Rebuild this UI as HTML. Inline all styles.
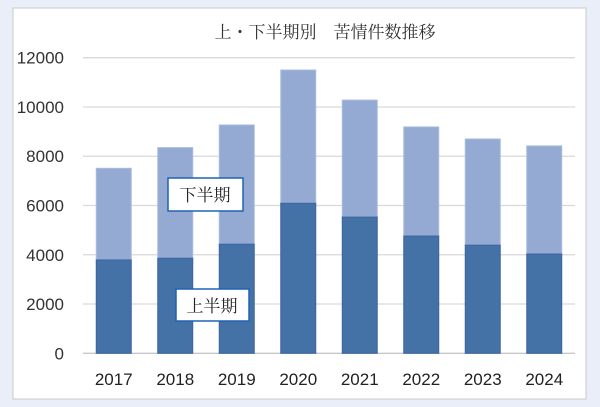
<!DOCTYPE html>
<html><head><meta charset="utf-8"><style>
html,body{margin:0;padding:0;background:#e9eef8;width:600px;height:407px;overflow:hidden}
svg{display:block}
text{font-family:"Liberation Sans","Noto Sans CJK JP",sans-serif}
text.cjk{font-family:"Liberation Serif","Noto Serif CJK SC",serif}
</style></head><body>
<svg width="600" height="407">
<rect x="13" y="8" width="573" height="391" fill="#fff" stroke="#c8c8c8"/>
<text class="cjk" x="325" y="38" font-size="17" text-anchor="middle" fill="#333">上・下半期別　苦情件数推移</text>
<g id="grid"></g><g id="bars"></g><g id="labels"></g>
<g>
<rect x="168" y="178" width="75" height="33" fill="#fff" stroke="#1f63b5" stroke-width="1.5"/>
<text class="cjk" x="205" y="201" font-size="17" text-anchor="middle" fill="#222">下半期</text></g>
<g>
<rect x="176" y="289" width="73" height="32" fill="#fff" stroke="#1f63b5" stroke-width="1.5"/>
<text class="cjk" x="212" y="312" font-size="17" text-anchor="middle" fill="#222">上半期</text></g>
</svg>
<script>
const categories=["2017","2018","2019","2020","2021","2022","2023","2024"];
const firstHalf=[3790,3860,4430,6090,5530,4760,4390,4030];
const totals=[7510,8350,9270,11500,10280,9190,8700,8420];
const ticks=[0,2000,4000,6000,8000,10000,12000];
const NS="http://www.w3.org/2000/svg";
const x0=83,x1=575,yb=353.3,yt=57.7,max=12000;
const y=v=>yb-(v/max)*(yb-yt);
const band=(x1-x0)/categories.length;
const cx=i=>x0+band*(i+0.5);
function mk(t,a,p){const e=document.createElementNS(NS,t);for(const k in a)e.setAttribute(k,a[k]);p.appendChild(e);return e;}
const g=document.getElementById('grid'),b=document.getElementById('bars'),l=document.getElementById('labels');
ticks.forEach(t=>{
 const ln=mk('line',{x1:x0,x2:x1,y1:y(t),y2:y(t),stroke:t===0?'#c8c8c8':'#d9d9d9','stroke-width':1.3},g);
 
 
 const tx=mk('text',{x:64,y:y(t)+6,'font-size':17,'text-anchor':'end',fill:'#333'},l);
 tx.textContent=t;
 
 
});
categories.forEach((c,i)=>{
 const w=35,xl=cx(i)-w/2;
 const up=mk('rect',{x:xl,y:y(totals[i]),width:w,height:y(firstHalf[i])-y(totals[i]),fill:'#94aad3',stroke:'#a9bbe0'},b);
 
 
 const lo=mk('rect',{x:xl,y:y(firstHalf[i]),width:w,height:yb-y(firstHalf[i]),fill:'#4472a7',stroke:'#3b65a0'},b);
 
 
 const tx=mk('text',{x:cx(i),y:385,'font-size':17,'text-anchor':'middle',fill:'#222'},l);
 tx.textContent=c;
 
 
});
</script>
</body></html>
